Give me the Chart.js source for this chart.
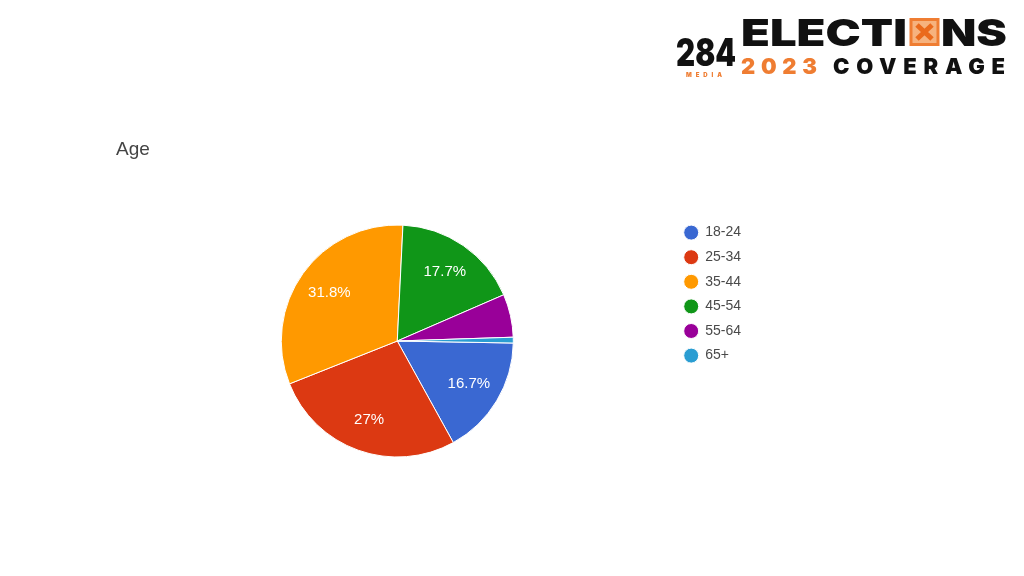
<!DOCTYPE html>
<html>
<head>
<meta charset="utf-8">
<script src="https://cdn.jsdelivr.net/npm/chart.js@4"></script>
<style>
  html, body { margin: 0; padding: 0; background: #fff; }
  #wrap { position: relative; width: 1024px; height: 576px; overflow: hidden; }
  #chart { position: absolute; left: 0; top: 0; }
  #title { position: absolute; left: 116px; top: 138px; font: 19px "Liberation Sans", Arial, sans-serif; color: #444; }
  #logo { position: absolute; left: 0; top: 0; }
</style>
</head>
<body>
<div id="wrap">
  <canvas id="chart" width="1024" height="576"></canvas>
  <div id="title">Age</div>
  <svg id="logo" width="1024" height="90" viewBox="0 0 1024 90">
    <g font-family="Inter, Roboto, 'DejaVu Sans', sans-serif" font-weight="900">
      <text x="676" y="66" font-size="38" textLength="60" lengthAdjust="spacingAndGlyphs" fill="#111">284</text>
      <text x="686" y="77" font-size="6" textLength="36" lengthAdjust="spacing" fill="#ef7d32">MEDIA</text>
      <text x="741" y="46" font-size="37" textLength="166" lengthAdjust="spacingAndGlyphs" fill="#111">ELECTI</text>
      <rect x="911" y="19.5" width="27" height="25" fill="#f6b27e" stroke="#ef7d32" stroke-width="3"/>
      <path d="M917 25 L932 39 M932 25 L917 39" stroke="#ea6a1c" stroke-width="5"/>
      <text x="941" y="46" font-size="37" textLength="66" lengthAdjust="spacingAndGlyphs" fill="#111">NS</text>
      <text x="741" y="74" font-size="22" textLength="76" lengthAdjust="spacing" fill="#ef7d32">2023</text>
      <text x="833" y="74" font-size="22" textLength="172" lengthAdjust="spacing" fill="#111">COVERAGE</text>
    </g>
  </svg>
</div>
<script>
// --- DATA ---
const ageGroups = ["18-24", "25-34", "35-44", "45-54", "55-64", "65+"];
const shares = [16.7, 27, 31.8, 17.7, 6.0, 0.8];
const sliceColors = ["#3a68d2", "#dc3912", "#ff9900", "#109618", "#990099", "#2a9dd2"];

// percent text inside the bigger slices
const pctLabels = {
  id: 'pctLabels',
  afterDatasetsDraw(chart) {
    const ctx = chart.ctx;
    const meta = chart.getDatasetMeta(0);
    ctx.save();
    ctx.font = '15px "Liberation Sans", Arial, sans-serif';
    ctx.fillStyle = '#fff';
    ctx.textAlign = 'center';
    ctx.textBaseline = 'middle';
    meta.data.forEach((arc, i) => {
      if (shares[i] < 10) return;
      const mid = (arc.startAngle + arc.endAngle) / 2;
      const r = arc.outerRadius * 0.72;
      ctx.fillText(shares[i] + '%', arc.x + Math.cos(mid) * r, arc.y + Math.sin(mid) * r);
    });
    ctx.restore();
  }
};

new Chart(document.getElementById('chart'), {
  type: 'pie',
  data: {
    labels: ageGroups,
    datasets: [{
      data: shares,
      backgroundColor: sliceColors,
      borderColor: '#fff',
      borderWidth: 1
    }]
  },
  options: {
    responsive: false,
    animation: false,
    rotation: 91,
    radius: 116,
    layout: { padding: { left: 121, right: 273, top: 215, bottom: 109 } },
    plugins: {
      tooltip: { enabled: false },
      legend: {
        position: 'right',
        align: 'start',
        labels: {
          usePointStyle: true,
          pointStyle: 'circle',
          boxHeight: 10.6,
          padding: 10.6,
          color: '#4a4a4a',
          font: { family: '"Liberation Sans", Arial, sans-serif', size: 14 }
        }
      }
    }
  },
  plugins: [pctLabels]
});
</script>
</body>
</html>
